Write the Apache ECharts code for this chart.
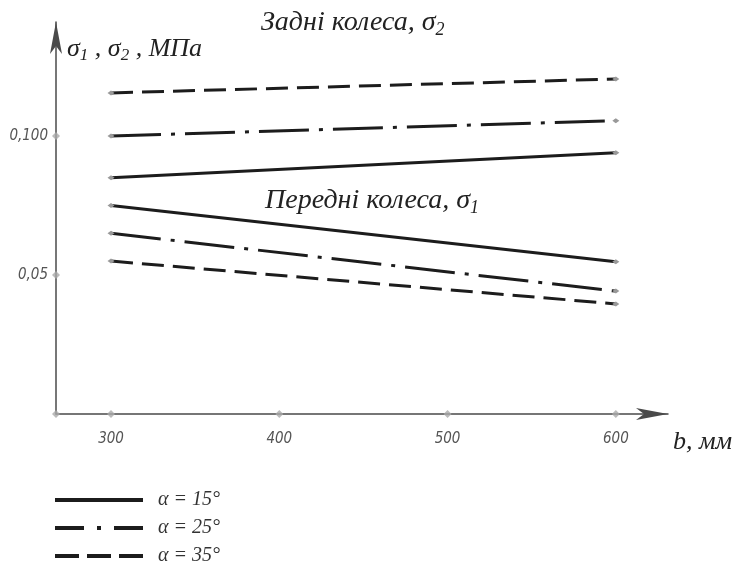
<!DOCTYPE html>
<html>
<head>
<meta charset="utf-8">
<script src="https://cdn.jsdelivr.net/npm/echarts@6/dist/echarts.min.js"></script>
<style>
html, body { margin: 0; padding: 0; background: #fff; }
#chart { width: 735px; height: 567px; }
</style>
</head>
<body>
<div id="chart"></div>
<script>
// ширина шини b, мм
var widths = [300, 600];
// задні колеса, sigma2
var rear15 = [0.085, 0.094];
var rear25 = [0.100, 0.1055];
var rear35 = [0.1155, 0.1205];
// передні колеса, sigma1
var front15 = [0.075, 0.0548];
var front25 = [0.065, 0.0442];
var front35 = [0.055, 0.0396];
// ticks
var xTicks = [300, 400, 500, 600];
var yTicks = [0.05, 0.1];
var yTickLabels = ['0,05', '0,100'];
var legendNames = ['α = 15°', 'α = 25°', 'α = 35°'];

var xMin = 267.3, xMax = 631;
var lineColor = '#1c1c1c';
var dashStyles = ['solid', [50, 10, 4, 10], [22, 9]];
var legendDash = ['solid', [29, 13, 4, 13], [24, 8]];

function pairs(ys) {
    return widths.map(function (x, i) { return [x, ys[i]]; });
}

function lineSeries(name, ys, k) {
    return {
        name: name,
        type: 'line',
        data: pairs(ys),
        symbol: 'diamond',
        symbolSize: [7, 5],
        itemStyle: { color: '#999' },
        lineStyle: { color: lineColor, width: 3, type: dashStyles[k] },
        silent: true,
        z: 3
    };
}

var tickMarks = xTicks.map(function (x) { return [x, 0]; })
    .concat(yTicks.map(function (y) { return [xMin, y]; }))
    .concat([[xMin, 0]]);

function serif(size) {
    return { fontFamily: 'Liberation Serif', fontStyle: 'italic', fontWeight: 'normal', fontSize: size, color: '#222' };
}
function sub(size, pad) {
    return { fontFamily: 'Liberation Serif', fontStyle: 'italic', fontWeight: 'normal', fontSize: size, color: '#222', verticalAlign: 'bottom', padding: [pad, 0, 0, 0] };
}

var chart = echarts.init(document.getElementById('chart'));
var option = {
    animation: false,
    backgroundColor: '#fff',
    title: [
        {
            text: '{t|Задні колеса, σ}{s|2}',
            left: 256, top: 2,
            textStyle: { fontWeight: 'normal', rich: { t: serif(28), s: sub(18, 14) } }
        },
        {
            text: '{t|Передні колеса, σ}{s|1}',
            left: 260, top: 180,
            textStyle: { fontWeight: 'normal', rich: { t: serif(28), s: sub(18, 14) } }
        },
        {
            text: '{t|σ}{s|1}{t| , σ}{s|2}{t| , МПа}',
            left: 62, top: 29,
            textStyle: { fontWeight: 'normal', rich: { t: serif(26), s: sub(17, 13) } }
        },
        {
            text: 'b, мм',
            left: 668, top: 424,
            textStyle: { fontFamily: 'Liberation Serif', fontStyle: 'italic', fontWeight: 'normal', fontSize: 26, color: '#222' }
        }
    ],
    legend: {
        data: legendNames.map(function (n, k) {
            return { name: n, lineStyle: { type: legendDash[k], width: 4 } };
        }),
        orient: 'vertical',
        left: 53, top: 490,
        padding: 0,
        itemWidth: 88, itemHeight: 16,
        itemGap: 8,
        itemStyle: { opacity: 0 },
        lineStyle: { width: 4 },
        textStyle: { fontFamily: 'Liberation Serif', fontStyle: 'italic', fontSize: 20, lineHeight: 18, color: '#333', padding: [0, 0, 0, 10] }
    },
    grid: { left: 56, top: 22, width: 612, height: 392 },
    xAxis: {
        type: 'value',
        min: xMin, max: xMax,
        splitLine: { show: false },
        axisTick: { show: false },
        axisLine: { show: true, symbol: ['none', 'arrow'], symbolSize: [9, 32], lineStyle: { color: '#4a4a4a', width: 1.5 } },
        axisLabel: {
            customValues: xTicks,
            margin: 18,
            fontFamily: 'Liberation Sans Narrow, DejaVu Sans Condensed, sans-serif',
            fontStyle: 'italic', fontSize: 15, color: '#555'
        }
    },
    yAxis: {
        type: 'value',
        min: 0, max: 0.141,
        splitLine: { show: false },
        axisTick: { show: false },
        axisLine: { show: true, symbol: ['none', 'arrow'], symbolSize: [9, 32], lineStyle: { color: '#4a4a4a', width: 1.5 } },
        axisLabel: {
            customValues: yTicks,
            margin: 8,
            fontFamily: 'Liberation Sans Narrow, DejaVu Sans Condensed, sans-serif',
            fontStyle: 'italic', fontSize: 15, color: '#555',
            formatter: function (v) {
                var i = yTicks.indexOf(v);
                return i >= 0 ? yTickLabels[i] : '';
            }
        }
    },
    series: [
        lineSeries(legendNames[0], rear15, 0),
        lineSeries(legendNames[1], rear25, 1),
        lineSeries(legendNames[2], rear35, 2),
        lineSeries(legendNames[0], front15, 0),
        lineSeries(legendNames[1], front25, 1),
        lineSeries(legendNames[2], front35, 2),
        {
            name: 'ticks',
            type: 'scatter',
            data: tickMarks,
            symbol: 'diamond',
            symbolSize: 8,
            itemStyle: { color: '#aaa' },
            clip: false,
            silent: true,
            z: 4
        }
    ]
};
chart.setOption(option);
</script>
</body>
</html>
